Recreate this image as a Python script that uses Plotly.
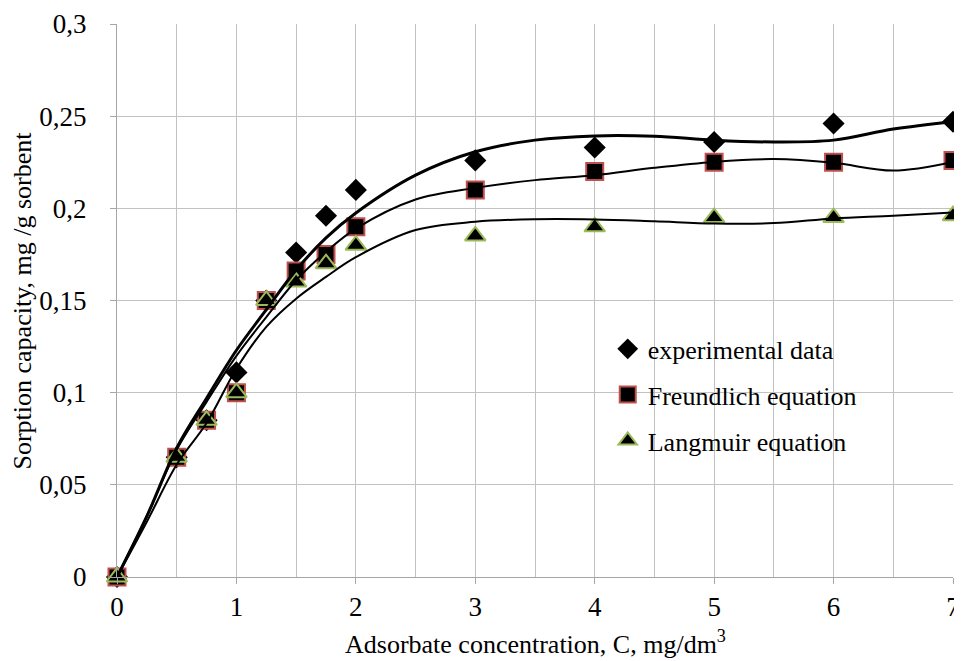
import plotly.graph_objects as go

# ---- data ----
conc = [0, 0.5, 0.75, 1, 1.25, 1.5, 1.75, 2, 3, 4, 5, 6, 7]
experimental = [0, 0.065, 0.085, 0.111, 0.150, 0.176, 0.196, 0.210, 0.226, 0.233, 0.236, 0.246, 0.247]
freundlich = [0, 0.065, 0.085, 0.100, 0.150, 0.166, 0.175, 0.190, 0.210, 0.220, 0.225, 0.225, 0.226]
langmuir = [0, 0.065, 0.085, 0.100, 0.150, 0.160, 0.170, 0.180, 0.185, 0.190, 0.195, 0.195, 0.196]

# fitted curves
curve_x = [0, 0.25, 0.5, 0.75, 1, 1.25, 1.5, 1.75, 2, 2.5, 3, 3.5, 4, 4.5, 5, 5.5, 6, 6.5, 7]
curve_exp = [0, 0.033, 0.070, 0.097, 0.123, 0.145, 0.1665, 0.184, 0.1975, 0.218, 0.2307, 0.237,
             0.2393, 0.2391, 0.237, 0.236, 0.237, 0.243, 0.247]
curve_fr = [0, 0.033, 0.069, 0.095, 0.120, 0.141, 0.161, 0.1764, 0.189, 0.2048, 0.2111, 0.2153,
            0.218, 0.222, 0.2252, 0.2267, 0.2247, 0.2205, 0.2252]
curve_la = [0, 0.030, 0.061, 0.0835, 0.113, 0.1357, 0.151, 0.1628, 0.1735, 0.1882, 0.1927, 0.1941,
            0.194, 0.193, 0.1918, 0.192, 0.1945, 0.196, 0.1978]

x_ticks = [0, 1, 2, 3, 4, 5, 6, 7]
y_ticks = [0, 0.05, 0.1, 0.15, 0.2, 0.25, 0.3]
y_ticktext = ["0", "0,05", "0,1", "0,15", "0,2", "0,25", "0,3"]

series_names = ["experimental data", "Freundlich equation", "Langmuir equation"]
x_title = "Adsorbate concentration, C, mg/dm<sup>3</sup>"
y_title = "Sorption capacity, mg /g sorbent"

FONT = "Liberation Serif"
GRID = "#C2C2C2"
AXIS = "#A6A6A6"

fig = go.Figure()

# markers
fig.add_trace(go.Scatter(
    x=conc, y=experimental, mode="markers", name=series_names[0], legendgroup="a",
    marker=dict(symbol="diamond", size=17, color="black", line=dict(width=0)),
    cliponaxis=False))
fig.add_trace(go.Scatter(
    x=conc, y=freundlich, mode="markers", name=series_names[1], legendgroup="b",
    marker=dict(symbol="square", size=17, color="black", line=dict(width=2, color="#C0504D")),
    cliponaxis=False))
fig.add_trace(go.Scatter(
    x=conc, y=langmuir, mode="markers", name=series_names[2], legendgroup="c",
    marker=dict(symbol="triangle-up", size=18, color="black", line=dict(width=2, color="#9BBB59")),
    cliponaxis=False))

# curves
for cy, w in [(curve_exp, 3), (curve_fr, 2), (curve_la, 2)]:
    fig.add_trace(go.Scatter(
        x=curve_x, y=cy, mode="lines", showlegend=False, hoverinfo="skip",
        line=dict(color="black", width=w, shape="spline", smoothing=1.0),
        cliponaxis=False))

fig.update_layout(
    width=962, height=653,
    margin=dict(l=109, r=17, t=16, b=84),
    paper_bgcolor="white", plot_bgcolor="white",
    font=dict(family=FONT, size=26, color="black"),
    showlegend=True,
    legend=dict(
        x=0.587, y=0.455, xanchor="left", yanchor="top",
        bgcolor="rgba(0,0,0,0)", borderwidth=0,
        font=dict(family=FONT, size=26, color="black"),
        tracegroupgap=9, itemwidth=30,
    ),
    annotations=[
        dict(text=x_title, xref="paper", yref="paper", x=0.5, y=-0.119,
             xanchor="center", yanchor="middle", showarrow=False,
             font=dict(family=FONT, size=26, color="black")),
        dict(text=y_title, xref="paper", yref="paper", x=-0.1136, y=0.5,
             xanchor="center", yanchor="middle", showarrow=False, textangle=-90,
             font=dict(family=FONT, size=26, color="black")),
    ],
)

fig.update_xaxes(
    range=[0, 7], tickvals=x_ticks, ticktext=[str(t) for t in x_ticks],
    showgrid=True, gridcolor=GRID, gridwidth=1,
    minor=dict(dtick=0.5, showgrid=True, gridcolor=GRID, gridwidth=1),
    showline=True, linecolor=AXIS, linewidth=1,
    ticks="outside", ticklen=6, tickcolor=AXIS,
    zeroline=False, ticklabelstandoff=0, automargin=False,
    tickfont=dict(family=FONT, size=27),
)
fig.update_yaxes(
    range=[0, 0.3], tickvals=y_ticks, ticktext=y_ticktext,
    showgrid=True, gridcolor=GRID, gridwidth=1,
    showline=True, linecolor=AXIS, linewidth=1,
    ticks="outside", ticklen=6, tickcolor=AXIS,
    zeroline=False, ticklabelstandoff=18, automargin=False,
    tickfont=dict(family=FONT, size=27),
)

fig.write_html("out.html")
